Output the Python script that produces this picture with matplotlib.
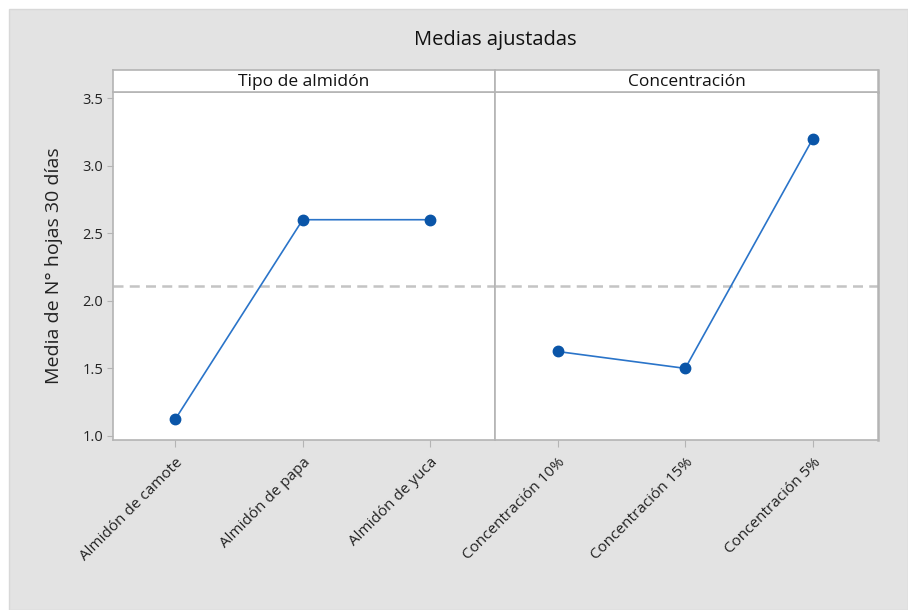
import matplotlib.pyplot as plt
from matplotlib.patches import Rectangle
import numpy as np

plt.rcParams['font.family'] = ['Open Sans', 'DejaVu Sans']

# Medias ajustadas por factor
almidon = ["Almidón de camote", "Almidón de papa", "Almidón de yuca"]
media_almidon = [1.125, 2.6, 2.6]
concentracion = ["Concentración 10%", "Concentración 15%", "Concentración 5%"]
media_conc = [1.625, 1.5, 3.2]
media_global = np.mean(media_almidon)

W, H = 908, 610
fig = plt.figure(figsize=(W / 100, H / 100), dpi=100, facecolor='white')
# fondo gris del marco
fig.patches.append(Rectangle((9 / W, 0), 1 - 9 / W, 1 - 9 / H,
                             transform=fig.transFigure, facecolor='#e3e3e3',
                             edgecolor='#d8d8d8', lw=1, zorder=-10))

def px_axes(x0, y0, x1, y1):
    return fig.add_axes([x0 / W, 1 - y1 / H, (x1 - x0) / W, (y1 - y0) / H])

edge = '#b4b4b4'
blue_line = '#2a74c9'
blue_pt = '#0a55a8'

paneles = [
    ("Tipo de almidón", almidon, media_almidon, 113, 495),
    ("Concentración", concentracion, media_conc, 495, 878),
]

for i, (titulo, cats, vals, x0, x1) in enumerate(paneles):
    ax = px_axes(x0, 92, x1, 440)
    ax.set_facecolor('white')
    x = np.arange(len(cats))
    ax.axhline(media_global, color='#c4c4c4', lw=1.8, ls=(0, (4, 2.5)), zorder=1)
    ax.plot(x, vals, color=blue_line, lw=1.2, zorder=2)
    ax.plot(x, vals, 'o', color=blue_pt, ms=7.5, zorder=3)
    ax.set_xlim(-0.49, 2.51)
    ax.set_ylim(0.97, 3.545)
    ax.set_xticks(x)
    ax.set_xticklabels(cats, rotation=45, ha='right', rotation_mode='anchor',
                       fontsize=11, color='#222222')
    ax.tick_params(axis='x', length=5, color=edge, pad=6)
    if i == 0:
        ax.set_yticks([1.0, 1.5, 2.0, 2.5, 3.0, 3.5])
        ax.set_yticklabels(['1.0', '1.5', '2.0', '2.5', '3.0', '3.5'],
                           fontsize=10.5, color='#222222')
        ax.tick_params(axis='y', length=4, color=edge, pad=3)
        ax.set_ylabel("Media de N° hojas 30 días", fontsize=14, color='#222222',
                      labelpad=14)
    else:
        ax.set_yticks([])
    for s in ax.spines.values():
        s.set_color(edge)
        s.set_linewidth(1.2)
    if i == 1:
        ax.spines['right'].set_linewidth(1.8)

    # franja con el nombre del factor
    st = px_axes(x0, 70, x1, 92)
    st.set_facecolor('white')
    st.set_xticks([])
    st.set_yticks([])
    for s in st.spines.values():
        s.set_color(edge)
        s.set_linewidth(1.2)
    if i == 1:
        st.spines['right'].set_linewidth(1.8)
    st.text(0.5, 0.45, titulo, ha='center', va='center', fontsize=12.5,
            color='#111111', transform=st.transAxes)

fig.text(495 / W, 1 - 40 / H, "Medias ajustadas", ha='center', va='center',
         fontsize=14.5, color='#111111')

fig.savefig('out.png', dpi=100, facecolor=fig.get_facecolor())
